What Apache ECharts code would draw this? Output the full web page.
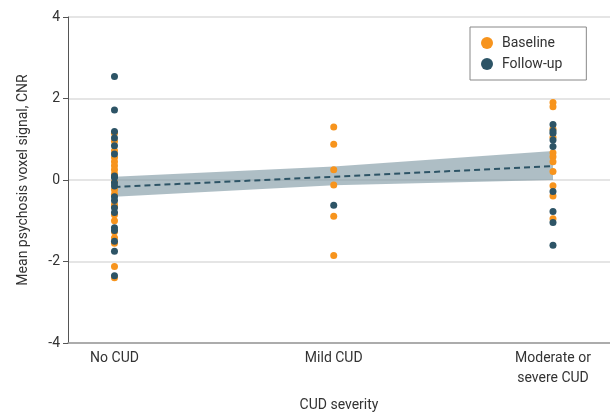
<!DOCTYPE html>
<html>
<head>
<meta charset="utf-8">
<script src="https://cdn.jsdelivr.net/npm/echarts@6/dist/echarts.min.js"></script>
<style>
  html, body { margin: 0; padding: 0; background: #fff; }
  #chart { width: 610px; height: 412px; }
</style>
</head>
<body>
<div id="chart"></div>
<script>
// categories on the x axis (positions 0, 1, 2)
const categories = ['No CUD', 'Mild CUD', 'Moderate or\nsevere CUD']

// baseline (orange) values per category
const baselineNo = [1.15, 0.95, 0.72, 0.55, 0.45, 0.35, 0.25, 0.15, -0.05, -0.24, -0.35, -0.6, -0.65, -0.85, -1.0, -1.27, -1.42, -1.55, -2.12, -2.4]
const baselineMild = [1.3, 0.88, 0.25, -0.12, -0.89, -1.85]
const baselineMod = [1.9, 1.8, 1.25, 1.05, 0.67, 0.57, 0.45, 0.21, -0.14, -0.39, -0.95]

// follow-up (dark) values per category
const followNo = [2.54, 1.72, 1.19, 1.03, 0.84, 0.64, 0.1, 0.06, -0.07, -0.15, -0.41, -0.5, -0.68, -0.8, -1.17, -1.24, -1.5, -1.75, -2.35]
const followMild = [-0.62]
const followMod = [1.36, 1.2, 1.15, 0.98, 0.82, -0.28, -0.77, -1.04, -1.6]

// regression fit and confidence band at x = 0, 1, 2
const fitLine = [-0.17, 0.08, 0.34]
const bandLower = [-0.41, -0.13, 0.0]
const bandUpper = [0.08, 0.33, 0.71]

const yTicks = [-4, -2, 0, 2, 4]

const orange = '#F7941D'
const dark = '#2D5466'

const toPoints = (lists) => {
  const out = []
  lists.forEach((vals, i) => vals.forEach(v => out.push([i, v])))
  return out
}

const chart = echarts.init(document.getElementById('chart'))

const option = {
  animation: false,
  textStyle: { fontFamily: 'Roboto' },
  grid: { left: 68, right: 0, top: 17, bottom: 69, outerBoundsMode: 'none', containLabel: false },
  legend: {
    left: 470,
    top: 27,
    orient: 'vertical',
    data: ['Baseline', 'Follow-up'],
    icon: 'circle',
    itemWidth: 12,
    itemHeight: 12,
    itemGap: 7,
    padding: [9, 24, 9, 11],
    borderColor: '#888',
    borderWidth: 1,
    textStyle: { fontSize: 14, color: '#333', fontFamily: 'Roboto', padding: [0, 0, 0, 4] }
  },
  xAxis: {
    type: 'value',
    min: -0.212,
    max: 2.26,
    name: 'CUD severity',
    nameLocation: 'middle',
    nameGap: 55,
    nameTextStyle: { fontSize: 14, color: '#333' },
    axisLine: { show: true, onZero: false, lineStyle: { color: '#999', width: 1.5 } },
    axisTick: { show: false },
    splitLine: { show: false },
    axisLabel: {
      customValues: [0, 1, 2],
      formatter: v => categories[Math.round(v)],
      fontSize: 14,
      color: '#333',
      margin: 5,
      lineHeight: 20,
      verticalAlign: 'top'
    }
  },
  yAxis: {
    type: 'value',
    min: yTicks[0],
    max: yTicks[yTicks.length - 1],
    interval: 2,
    name: 'Mean psychosis voxel signal, CNR',
    nameLocation: 'middle',
    nameGap: 38,
    nameTextStyle: { fontSize: 14, color: '#333' },
    axisLine: { show: true, onZero: false, lineStyle: { color: '#555', width: 1 } },
    axisTick: { show: true, length: 5, lineStyle: { color: '#555' } },
    axisLabel: { fontSize: 14, color: '#333', margin: 8 },
    splitLine: { show: true, lineStyle: { color: '#ddd', width: 1.5 } }
  },
  series: [
    {
      name: 'band',
      type: 'custom',
      silent: true,
      z: 1,
      data: [0],
      renderItem: (params, api) => {
        const top = bandUpper.map((v, i) => api.coord([i, v]))
        const bot = bandLower.map((v, i) => api.coord([i, v])).reverse()
        return {
          type: 'polygon',
          shape: { points: top.concat(bot) },
          style: { fill: 'rgba(125,150,162,0.62)' }
        }
      }
    },
    {
      name: 'fit',
      type: 'line',
      data: fitLine.map((v, i) => [i, v]),
      symbol: 'none',
      lineStyle: { color: dark, width: 2, type: [6, 4] },
      z: 2
    },
    {
      name: 'Baseline',
      type: 'scatter',
      data: toPoints([baselineNo, baselineMild, baselineMod]),
      symbolSize: 7,
      itemStyle: { color: orange, opacity: 1 },
      z: 3
    },
    {
      name: 'Follow-up',
      type: 'scatter',
      data: toPoints([followNo, followMild, followMod]),
      symbolSize: 7,
      itemStyle: { color: dark, opacity: 1 },
      z: 4
    }
  ]
}

chart.setOption(option)
</script>
</body>
</html>
